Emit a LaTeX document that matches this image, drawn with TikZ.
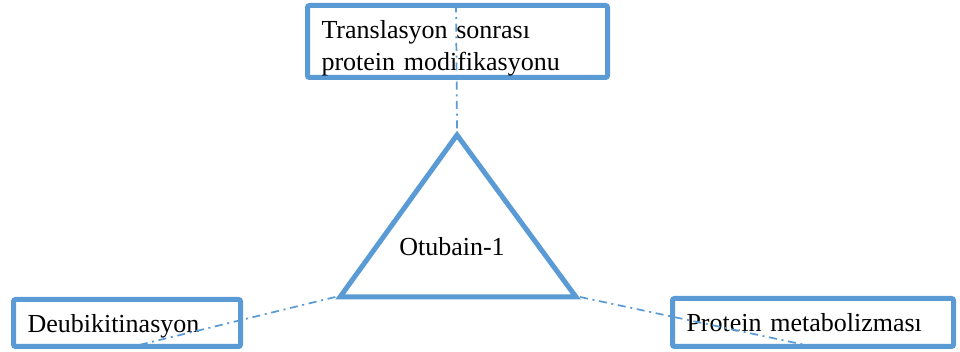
\documentclass[tikz,border=0pt]{standalone}
\usepackage{fontspec}
\setmainfont{Liberation Serif}
\usepackage{tikz}
\definecolor{boxblue}{RGB}{91,155,213}

\begin{document}
\begin{tikzpicture}[x=0.75pt, y=-0.75pt,
    box/.style={rectangle, draw=boxblue, line width=3.75pt, rounded corners=1.5pt,
        fill=white, align=left, inner xsep=14*0.75pt, inner ysep=0pt, text depth=0pt,
        font=\fontsize{19.5}{24}\selectfont},
    link/.style={boxblue, line width=1.3pt,
        dash pattern=on 6pt off 3.5pt on 1.5pt off 3.5pt}]
    \useasboundingbox (0,0) rectangle (960,352);
    \node[box, text width=272*0.75pt, minimum height=72*0.75pt, text depth=18pt] (ptm) at (457.5,41.5)
        {Translasyon sonrası\\protein modifikasyonu};
    \node[box, text width=199*0.75pt, minimum height=47*0.75pt] (deub) at (127,323)
        {Deubikitinasyon};
    \node[box, text width=253*0.75pt, minimum height=48*0.75pt] (metab) at (813,322.5)
        {Protein metabolizması};
    \coordinate (apex) at (457,135);
    \coordinate (bl) at (340,297);
    \coordinate (br) at (576,297);
    \draw [boxblue, line width=3.75pt] (apex) -- (bl) -- (br) -- cycle;
    \node[font=\fontsize{19.5}{24}\selectfont] (otub) at (452,247) {Otubain-1};
    \coordinate (topend) at (456,0);
    \coordinate (leftend) at (135,346);
    \coordinate (rightend) at (810,346);
    \draw [link] ([yshift=5pt]apex) -- (topend);
    \draw [link] ([xshift=-3.5pt]bl) -- (leftend);
    \draw [link] ([xshift=3pt]br) -- (rightend);
\end{tikzpicture}
\end{document}
